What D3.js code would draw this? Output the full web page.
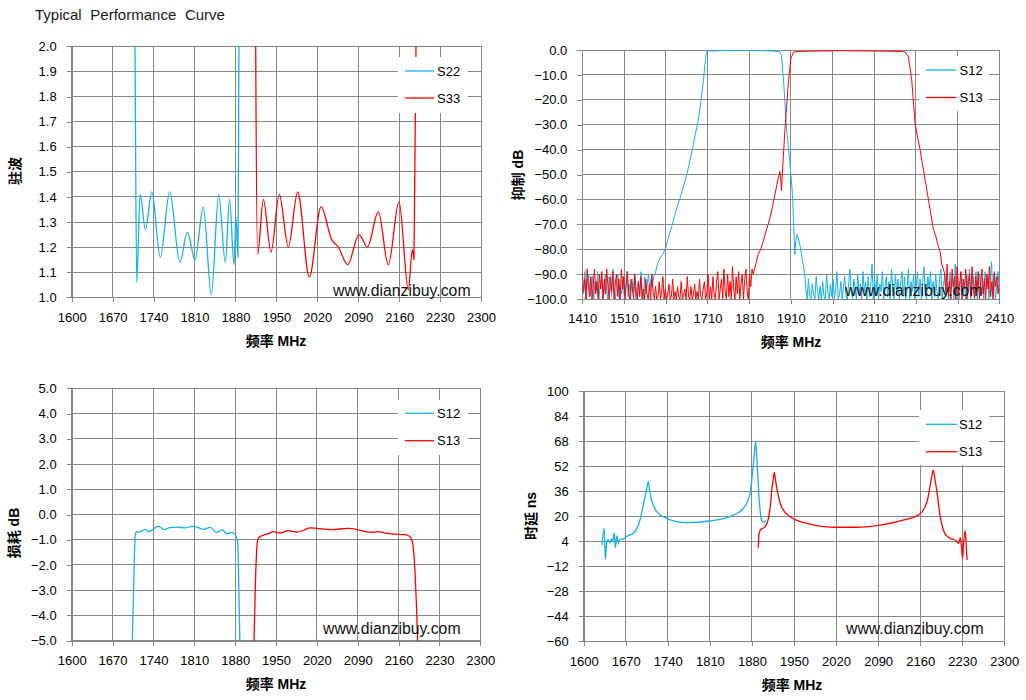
<!DOCTYPE html>
<html>
<head>
<meta charset="utf-8">
<script src="https://cdn.jsdelivr.net/npm/d3@7/dist/d3.min.js"></script>
<style>
  body { margin: 0; background: #fff; }
  svg { display: block; }
</style>
</head>
<body>
<svg id="chart"></svg>
<script>
var width = 1026,
    height = 700,
    font = '"Liberation Sans", "Noto Sans CJK SC", sans-serif',
    blue = '#14b1ec',
    red = '#ff0000',
    gridColor = '#878787';

// ---- tick values ----
var freqTicks = [1600, 1670, 1740, 1810, 1880, 1950, 2020, 2090, 2160, 2230, 2300];
var rejFreqTicks = [1410, 1510, 1610, 1710, 1810, 1910, 2010, 2110, 2210, 2310, 2410];
var vswrTicks = [1.0, 1.1, 1.2, 1.3, 1.4, 1.5, 1.6, 1.7, 1.8, 1.9, 2.0];
var rejTicks = [0, -10, -20, -30, -40, -50, -60, -70, -80, -90, -100];
var lossTicks = [5, 4, 3, 2, 1, 0, -1, -2, -3, -4, -5];
var delayTicks = [100, 84, 68, 52, 36, 20, 4, -12, -28, -44, -60];

// ---- 驻波 (VSWR) ----
var vswrFreqS22 = [1707.5, 1708.3, 1711.2, 1717, 1726, 1737, 1751.5, 1767.6, 1785, 1797.8, 1810.9, 1825, 1838.8, 1851.4, 1862.7, 1870, 1877.6, 1881, 1884.4, 1886, 1886.6];
var vswrS22 = [2.3, 2.0, 1.06, 1.41, 1.27, 1.42, 1.16, 1.42, 1.14, 1.26, 1.15, 1.36, 1.01, 1.41, 1.14, 1.39, 1.13, 1.32, 1.16, 2.0, 2.3];
var vswrFreqS33 = [1914.2, 1914.7, 1918, 1927.7, 1940.9, 1955, 1970.5, 1986.5, 2006.4, 2026.4, 2044.7, 2056, 2072, 2091.4, 2105.6, 2124.4, 2141.5, 2159.8, 2175.7, 2182.6, 2185.4, 2188.8, 2189.3];
var vswrS33 = [2.3, 2.0, 1.17, 1.39, 1.18, 1.41, 1.20, 1.42, 1.08, 1.36, 1.23, 1.20, 1.13, 1.25, 1.20, 1.34, 1.13, 1.38, 1.03, 1.19, 1.15, 2.0, 2.3];

// ---- 抑制 (rejection) ----
var s12LowNoise = [-92, -98, -89, -100, -94, -90, -99, -96, -91, -100, -93, -97, -89, -100, -95, -92, -100, -98, -90, -96,
  -100, -91, -94, -99, -88, -97, -100, -93, -90, -100, -95, -98, -91, -100, -96, -89, -99, -94, -100, -92,
  -97, -90, -100, -95, -93, -99, -89, -96, -100, -91, -98, -94, -90, -97, -92, -95, -91];
var s12SkirtFreq = [1584.5, 1590, 1596.4, 1603, 1610, 1617, 1624.4, 1634, 1644.3, 1652, 1660.3, 1668, 1676.2, 1682, 1688.2, 1694, 1700.2, 1704, 1706.6, 1710,
  1730, 1760, 1790, 1812, 1840, 1865, 1878, 1883.7, 1887.7, 1893.3, 1899.7, 1907.6, 1914, 1919.7, 1922, 1925.2, 1931.6, 1938, 1943.6];
var s12Skirt = [-90, -86, -83.6, -82, -79.6, -75, -70.9, -65, -59.5, -55, -50.3, -44.5, -38.1, -33, -28.1, -21, -12.8, -6, -2.1, -0.4,
  -0.35, -0.2, -0.15, -0.1, -0.25, -0.4, -0.6, -0.8, -2.1, -14, -31.5, -44.8, -58, -82, -77, -74, -78, -84.8, -90];
var s12HighNoise = [-96, -100, -92, -99, -100, -94, -98, -100, -91, -97, -100, -95, -100, -93, -99,
  -100, -90, -97, -100, -94, -99, -92, -100, -96, -89, -100, -98, -93, -100, -95,
  -91, -99, -100, -94, -88, -97, -100, -92, -96, -100, -90, -98, -94, -100, -89,
  -97, -93, -100, -91, -99, -95, -86, -100, -92, -98, -90, -100, -94, -97, -89,
  -100, -95, -91, -99, -93, -100, -88, -96, -100, -90, -98, -92, -100, -94, -89,
  -99, -91, -100, -96, -88, -100, -93, -97, -90, -100, -95, -89, -99, -92, -100,
  -94, -87, -98, -100, -91, -96, -89, -100, -93, -99, -90, -97, -100, -92, -88,
  -100, -95, -90, -99, -93, -100, -89, -96, -92, -100, -86, -98, -91, -100, -94,
  -89, -99, -93, -100, -90, -97, -88, -100, -95, -91, -99, -89, -100, -94, -90,
  -98, -92, -100, -89, -96, -91, -100, -93, -85, -99, -90, -100, -95, -89, -97];
var s13LowNoise = [-89, -97, -92, -100, -88, -95, -99, -91, -100, -94, -88, -98, -93, -100, -90,
  -96, -89, -100, -92, -98, -88, -95, -100, -91, -97, -89, -100, -94, -90, -99,
  -92, -100, -88, -96, -91, -100, -94, -89, -98, -100, -92, -96, -100, -90, -97,
  -100, -93, -99, -91, -100, -96, -100, -92, -98, -100, -94, -100, -90, -97, -100,
  -95, -100, -99, -93, -100, -97, -91, -100, -96, -100, -98, -94, -100, -99, -92,
  -100, -97, -100, -95, -99, -100, -93, -100, -98, -96, -100, -91, -99, -100, -95,
  -100, -98, -94, -100, -97, -100, -92, -99, -100, -96, -93, -100, -98, -90, -100,
  -95, -100, -91, -98, -100, -93, -89, -100, -96, -92, -100, -88, -97, -100, -90,
  -99, -93, -100, -87, -96, -100, -91, -98, -89, -100, -94, -90, -100, -92, -88,
  -97, -100, -90, -95, -88];
var s13SkirtFreq = [1820, 1826, 1832, 1838, 1844, 1852, 1860, 1866, 1872, 1878, 1883.7, 1886, 1887.7, 1890, 1895.7, 1903.7, 1910, 1916.3, 1930, 1948,
  1980, 2010, 2050, 2100, 2150, 2175, 2184, 2192, 2200, 2208, 2214, 2220, 2228, 2236, 2244, 2252, 2258, 2264, 2268, 2272, 2276];
var s13Skirt = [-90, -86, -82, -80, -76.7, -72, -67.5, -63, -58, -53, -48.7, -52, -56.5, -49, -32.6, -14, -3.5, -0.8, -0.6, -0.5,
  -0.4, -0.3, -0.3, -0.4, -0.5, -0.6, -0.8, -2.7, -12, -29.4, -35, -40, -48, -56, -64, -72, -75, -79, -81, -86, -88];
var s13HighNoise = [-90, -97, -86, -99, -93, -100, -88, -95, -91, -100, -87, -98, -94, -89, -100,
  -92, -96, -88, -100, -93, -90, -99, -87, -95, -100, -91, -97, -89, -100, -94,
  -88, -98, -92, -100, -90, -96, -87, -99, -93, -100, -89, -95, -91, -98, -94];

// ---- 损耗 (insertion loss) ----
var ilFreqS12 = [1703.6, 1706.5, 1709, 1711, 1715, 1720, 1725.6, 1732, 1740, 1748.5, 1758.6, 1768, 1780, 1794, 1808, 1817, 1825.5, 1837, 1848.3, 1858, 1865.5, 1874, 1880, 1884.3, 1886, 1888.3];
var ilS12 = [-5.3, -2.5, -0.8, -0.68, -0.7, -0.65, -0.59, -0.68, -0.58, -0.46, -0.6, -0.52, -0.5, -0.53, -0.46, -0.52, -0.59, -0.51, -0.71, -0.6, -0.77, -0.71, -0.8, -1.08, -2.5, -5.3];
var ilFreqS13 = [1912, 1915, 1918, 1919.7, 1924, 1931, 1938, 1945, 1957, 1971, 1985.5, 2000, 2008, 2020, 2045, 2074, 2096.7, 2111, 2125.3, 2139.6, 2155, 2171, 2178, 2182.5, 2186, 2188, 2190.5, 2193];
var ilS13 = [-5.3, -2.5, -1.1, -0.94, -0.86, -0.8, -0.75, -0.68, -0.73, -0.64, -0.7, -0.6, -0.53, -0.55, -0.6, -0.55, -0.64, -0.71, -0.68, -0.75, -0.78, -0.8, -0.85, -1.0, -1.5, -2.2, -3.5, -5.3];

// ---- 时延 (group delay) ----
var gdFreqS12 = [1630.4, 1634.3, 1636, 1638.5, 1641, 1643.5, 1646, 1648.5, 1650.6, 1652.7, 1655, 1657.5, 1660, 1666, 1673.4, 1682.6, 1693.7, 1702, 1705, 1707.6,
  1710, 1713, 1721.5, 1738, 1771.4, 1810, 1849, 1865.6, 1876.8, 1882, 1884.5, 1886.2, 1888, 1890, 1892.2, 1896, 1899, 1903.4];
var gdS12 = [1.6, 12.3, -7.5, 3.8, 5, 2.9, 5.6, 3.8, 9.5, -0.1, 7.5, 2.9, 5, 5.6, 7.5, 9.1, 17.6, 32.5, 38, 42.2,
  36, 30.4, 23, 18.7, 15.9, 17, 20.8, 25, 34.7, 51.7, 62, 67.7, 58, 45, 30.4, 17.6, 16, 17.6];
var gdFreqS13 = [1890.6, 1891.5, 1893.9, 1902, 1908, 1911, 1913, 1915.5, 1917.3, 1919, 1922, 1929.5, 1943, 1971, 2021, 2054, 2093, 2132, 2157, 2168,
  2173, 2176.3, 2179.5, 2181.8, 2184, 2187.5, 2193, 2201, 2209.6, 2218, 2224, 2226.7, 2228.5, 2230.7, 2232.5, 2235, 2236.5, 2238];
var gdS13 = [-0.1, 8, 11.2, 13.3, 19.8, 28, 36.8, 44, 48.1, 44, 36.8, 26, 19.8, 15.5, 13, 13, 14.4, 17.6, 20.8, 26,
  32, 39, 46, 49.6, 45, 36.8, 20.8, 9.1, 5.9, 4.8, 2.7, 6.3, 1.5, -6.9, 4, 10.6, 2, -8];

function zip(freqs, values) {
    return freqs.map(function(f, i) { return { f: f, v: values[i] }; });
}

function spread(values, f0, f1) {
    return values.map(function(v, i) {
        return { f: f0 + i * (f1 - f0) / (values.length - 1), v: v };
    });
}

var svg = d3.select('#chart')
    .attr('width', width)
    .attr('height', height)
    .style('font-family', font);

svg.append('rect').attr('width', width).attr('height', height).attr('fill', '#fff');

svg.append('text')
    .attr('x', 35)
    .attr('y', 20)
    .attr('font-size', 15)
    .attr('fill', '#1a1a1a')
    .style('word-spacing', '4.5px')
    .text('Typical Performance Curve');

var panels = [
    {
        id: 'p1', left: 71.7, right: 481, top: 46.3, bottom: 297.3,
        xDomain: [1600, 2300], xTicks: freqTicks,
        yDomain: [1, 2], yTicks: vswrTicks, yFmt: d3.format('.1f'),
        yTitle: '驻波', yTitlePos: [14.5, 171], xTitlePos: [276, 345.5],
        legendBox: [398, 57, 70, 56], legendLine: [405, 434, 437], legendY: [71, 98],
        mark: [333, 296], curve: d3.curveMonotoneX, lineWidth: 1.3,
        series: [
            { name: 'S22', color: blue, data: zip(vswrFreqS22, vswrS22) },
            { name: 'S33', color: red, data: zip(vswrFreqS33, vswrS33) }
        ]
    },
    {
        id: 'p2', left: 582.3, right: 999.3, top: 50, bottom: 299,
        xDomain: [1410, 2410], xTicks: rejFreqTicks,
        yDomain: [-100, 0], yTicks: rejTicks, yFmt: d3.format('.1f'),
        yTitle: '抑制 dB', yTitlePos: [518, 175], xTitlePos: [791, 347],
        legendBox: [919, 56, 70, 55], legendLine: [926, 956, 959.5], legendY: [70, 97.5],
        mark: [845, 296], curve: d3.curveLinear, lineWidth: 1,
        series: [
            { name: 'S12', color: blue, data: spread(s12LowNoise, 1410, 1581).concat(zip(s12SkirtFreq, s12Skirt), spread(s12HighNoise, 1946, 2410)) },
            { name: 'S13', color: red, data: spread(s13LowNoise, 1410, 1817).concat(zip(s13SkirtFreq, s13Skirt), spread(s13HighNoise, 2279, 2410)) }
        ]
    },
    {
        id: 'p3', left: 71.7, right: 480.3, top: 388.3, bottom: 640.7,
        xDomain: [1600, 2300], xTicks: freqTicks,
        yDomain: [-5, 5], yTicks: lossTicks, yFmt: d3.format('.1f'),
        yTitle: '损耗 dB', yTitlePos: [13.5, 533], xTitlePos: [276, 688.5],
        legendBox: [398, 400, 70, 55], legendLine: [405, 434, 437], legendY: [413.3, 440.7],
        mark: [323, 634], curve: d3.curveMonotoneX, lineWidth: 1.3,
        series: [
            { name: 'S12', color: blue, data: zip(ilFreqS12, ilS12) },
            { name: 'S13', color: red, data: zip(ilFreqS13, ilS13) }
        ]
    },
    {
        id: 'p4', left: 583.7, right: 1004.3, top: 391.3, bottom: 641.3,
        xDomain: [1600, 2300], xTicks: freqTicks,
        yDomain: [-60, 100], yTicks: delayTicks, yFmt: d3.format('d'),
        yTitle: '时延 ns', yTitlePos: [531, 516], xTitlePos: [792, 689.5],
        legendBox: [919, 410, 70, 55], legendLine: [926, 957, 959], legendY: [424.3, 451.7],
        mark: [846, 634], curve: d3.curveMonotoneX, lineWidth: 1.3,
        series: [
            { name: 'S12', color: blue, data: zip(gdFreqS12, gdS12) },
            { name: 'S13', color: red, data: zip(gdFreqS13, gdS13) }
        ]
    }
];

panels.forEach(drawPanel);

function drawPanel(p) {
    var x = d3.scaleLinear().domain(p.xDomain).range([p.left, p.right]);
    var y = d3.scaleLinear().domain(p.yDomain).range([p.bottom, p.top]);
    var g = svg.append('g');

    // grid
    g.append('g').selectAll('line.v')
        .data(p.xTicks).enter().append('line')
        .attr('x1', function(d) { return x(d); })
        .attr('x2', function(d) { return x(d); })
        .attr('y1', p.top).attr('y2', p.bottom)
        .attr('stroke', gridColor).attr('stroke-width', 1)
        .attr('shape-rendering', 'crispEdges');
    g.append('g').selectAll('line.h')
        .data(p.yTicks).enter().append('line')
        .attr('x1', p.left).attr('x2', p.right)
        .attr('y1', function(d) { return y(d); })
        .attr('y2', function(d) { return y(d); })
        .attr('stroke', gridColor).attr('stroke-width', 1)
        .attr('shape-rendering', 'crispEdges');

    // axes
    var xAxis = g.append('g')
        .attr('transform', 'translate(0,' + p.bottom + ')')
        .call(d3.axisBottom(x).tickValues(p.xTicks).tickFormat(d3.format('d'))
            .tickSize(5).tickSizeOuter(0).tickPadding(10));
    var yAxis = g.append('g')
        .attr('transform', 'translate(' + p.left + ',0)')
        .call(d3.axisLeft(y).tickValues(p.yTicks).tickFormat(p.yFmt)
            .tickSize(5).tickSizeOuter(0).tickPadding(10));
    [xAxis, yAxis].forEach(function(a) {
        a.selectAll('path, line').attr('stroke', gridColor).attr('shape-rendering', 'crispEdges');
        a.selectAll('text').attr('font-size', 13).attr('fill', '#000').style('font-family', font);
    });

    // series
    var clipId = 'clip-' + p.id;
    svg.append('clipPath').attr('id', clipId)
        .append('rect')
        .attr('x', p.left).attr('y', p.top)
        .attr('width', p.right - p.left).attr('height', p.bottom - p.top);

    var line = d3.line()
        .x(function(d) { return x(d.f); })
        .y(function(d) { return y(d.v); })
        .curve(p.curve);

    g.append('g').attr('clip-path', 'url(#' + clipId + ')')
        .selectAll('path')
        .data(p.series).enter().append('path')
        .attr('d', function(s) { return line(s.data); })
        .attr('fill', 'none')
        .attr('stroke', function(s) { return s.color; })
        .attr('stroke-width', p.lineWidth)
        .attr('stroke-linejoin', 'round');

    // legend
    var lb = p.legendBox, ll = p.legendLine;
    g.append('rect')
        .attr('x', lb[0]).attr('y', lb[1])
        .attr('width', lb[2]).attr('height', lb[3])
        .attr('fill', '#fff');
    p.series.forEach(function(s, i) {
        var ly = p.legendY[i];
        g.append('line')
            .attr('x1', ll[0]).attr('x2', ll[1])
            .attr('y1', ly).attr('y2', ly)
            .attr('stroke', s.color).attr('stroke-width', 1.3);
        g.append('text')
            .attr('x', ll[2]).attr('y', ly + 4.6)
            .attr('font-size', 13).attr('fill', '#000')
            .text(s.name);
    });

    // titles
    g.append('text')
        .attr('x', p.xTitlePos[0]).attr('y', p.xTitlePos[1])
        .attr('text-anchor', 'middle')
        .attr('font-size', 14).attr('font-weight', 'bold').attr('fill', '#000')
        .text('频率 MHz');
    g.append('text')
        .attr('transform', 'translate(' + p.yTitlePos[0] + ',' + p.yTitlePos[1] + ') rotate(-90)')
        .attr('text-anchor', 'middle')
        .attr('dominant-baseline', 'central')
        .attr('font-size', 14).attr('font-weight', 'bold').attr('fill', '#000')
        .text(p.yTitle);

    // watermark
    g.append('text')
        .attr('x', p.mark[0]).attr('y', p.mark[1])
        .attr('font-size', 15.8).attr('fill', '#111')
        .text('www.dianzibuy.com');
}
</script>
</body>
</html>
